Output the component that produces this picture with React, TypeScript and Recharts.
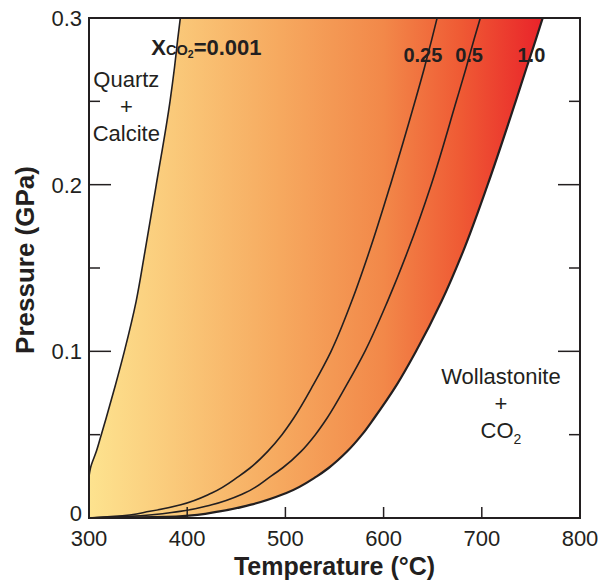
import React from 'react'
import { ComposedChart, Area, Line, XAxis, YAxis, ReferenceDot } from 'recharts'

const P_GPA = [0, 0.001, 0.004, 0.008, 0.015, 0.025, 0.03, 0.04, 0.05, 0.06, 0.08, 0.1, 0.13, 0.16, 0.2, 0.25, 0.27, 0.28, 0.287, 0.3]

// temperature (°C) of qz + cc = wo + CO2 for each X(CO2)
const T_X0001 = [null, null, null, null, null, 300, 301.5, 307.5, 312.5, 317.5, 327, 336, 348, 357, 368.5, 382.5, 387, 389, 390.3, 393]
const T_X025 = [300, 326, 362, 393.5, 425, 452.5, 464, 482, 496.5, 508.5, 528.5, 546.5, 567.5, 585.5, 607, 632, 641.5, 646, 649, 654.5]
const T_X05 = [300, 340, 392.5, 425, 458.5, 485, 497, 516, 530.5, 542.5, 562.5, 581, 604, 624.5, 648.5, 674, 684, 689, 692, 698.5]
const T_X10 = [300, 392, 433, 465, 501, 532, 544, 563, 578, 590.5, 613.5, 633, 659, 681, 706, 734.5, 745.5, 751, 755, 762]

const X_TICKS = [300, 400, 500, 600, 700, 800]
const Y_TICKS = [0, 0.05, 0.1, 0.15, 0.2, 0.25, 0.3]

// the curve labels near the top break the black lines here
const LABEL_GAP_P = 0.28

const INK = '#231f20'
const FONT = '"Liberation Sans", Arial, Helvetica, sans-serif'

const rows = P_GPA.map((p, i) => {
  const gap = p === LABEL_GAP_P
  return {
    p,
    band: [T_X0001[i] ?? 300, T_X10[i]],
    x0001: gap ? null : T_X0001[i],
    x025: gap ? null : T_X025[i],
    x05: gap ? null : T_X05[i],
    x10: gap ? null : T_X10[i],
  }
})

const isMajorP = (v: number) => Math.abs(v * 10 - Math.round(v * 10)) < 1e-6
const isEdgeP = (v: number) => v === 0 || v === 0.3
const isEdgeT = (v: number) => v === 300 || v === 800

const LeftTick = ({ x, y, payload }: any) => {
  const v = payload.value
  return (
    <g>
      {!isEdgeP(v) && (
        <line x1={x} x2={x + (isMajorP(v) ? 22 : 11)} y1={y} y2={y} stroke={INK} strokeWidth={1.5} />
      )}
      {isMajorP(v) && (
        <text
          x={x - 7}
          y={v === 0 ? y - 5 : y}
          dy="0.36em"
          textAnchor="end"
          fontSize={22}
          fontFamily={FONT}
          fill={INK}
        >
          {v === 0 ? '0' : v.toFixed(1)}
        </text>
      )}
    </g>
  )
}

const RightTick = ({ x, y, payload }: any) => {
  const v = payload.value
  if (isEdgeP(v)) return <g />
  return <line x1={x} x2={x - (isMajorP(v) ? 22 : 11)} y1={y} y2={y} stroke={INK} strokeWidth={1.5} />
}

const BottomTick = ({ x, y, payload }: any) => {
  const v = payload.value
  return (
    <g>
      {!isEdgeT(v) && <line x1={x} x2={x} y1={y} y2={y - 11} stroke={INK} strokeWidth={1.5} />}
      <text x={x} y={y + 28} textAnchor="middle" fontSize={22} fontFamily={FONT} fill={INK}>
        {v}
      </text>
    </g>
  )
}

const TopTick = ({ x, y, payload }: any) => {
  if (isEdgeT(payload.value)) return <g />
  return <line x1={x} x2={x} y1={y} y2={y + 9} stroke={INK} strokeWidth={1.5} />
}

const XTitle = ({ viewBox }: any) => (
  <text
    x={viewBox.x + viewBox.width / 2}
    y={viewBox.y + 57}
    textAnchor="middle"
    fontSize={25}
    fontWeight="bold"
    fontFamily={FONT}
    fill={INK}
  >
    Temperature (°C)
  </text>
)

const YTitle = ({ viewBox }: any) => {
  const x = viewBox.x + 34
  const y = viewBox.y + viewBox.height / 2 - 8
  return (
    <text
      x={x}
      y={y}
      transform={`rotate(-90 ${x} ${y})`}
      textAnchor="middle"
      fontSize={26}
      fontWeight="bold"
      fontFamily={FONT}
      fill={INK}
    >
      Pressure (GPa)
    </text>
  )
}

const fieldLabel = (top: string, bottom: React.ReactNode) => (props: any) => (
  <text x={props.cx} y={props.cy} textAnchor="middle" fontSize={22} fontFamily={FONT} fill={INK}>
    <tspan x={props.cx}>{top}</tspan>
    <tspan x={props.cx} dy={27}>+</tspan>
    <tspan x={props.cx} dy={26.5}>{bottom}</tspan>
  </text>
)

const curveLabel = (text: string) => (props: any) => (
  <text x={props.cx} y={props.cy} textAnchor="middle" fontSize={20} fontWeight="bold" fontFamily={FONT} fill={INK}>
    {text}
  </text>
)

const xco2Label = (props: any) => (
  <text x={props.cx} y={props.cy} fontWeight="bold" fontFamily={FONT} fill={INK}>
    <tspan fontSize={22}>X</tspan>
    <tspan fontSize={14.5}>CO</tspan>
    <tspan fontSize={10.5} dy={3}>2</tspan>
    <tspan fontSize={22} dy={-3}>=0.001</tspan>
  </text>
)

export default function App() {
  return (
    <div style={{ position: 'absolute', left: 0, top: 0 }}>
      <ComposedChart
        width={600}
        height={581}
        data={rows}
        layout="vertical"
        margin={{ top: 0, right: 0, bottom: 0, left: 0 }}
      >
        <defs>
          <linearGradient id="bandFill" x1="0" y1="0" x2="1" y2="0">
            <stop offset="0" stopColor="#fde38f" />
            <stop offset="0.42" stopColor="#f6a95f" />
            <stop offset="0.65" stopColor="#f28849" />
            <stop offset="0.82" stopColor="#ef5a34" />
            <stop offset="1" stopColor="#e9232a" />
          </linearGradient>
        </defs>

        <Area dataKey="band" type="monotone" fill="url(#bandFill)" fillOpacity={1} stroke="none" isAnimationActive={false} />
        <Line dataKey="x0001" type="monotone" stroke={INK} strokeWidth={1.6} dot={false} isAnimationActive={false} />
        <Line dataKey="x025" type="monotone" stroke={INK} strokeWidth={1.6} dot={false} isAnimationActive={false} />
        <Line dataKey="x05" type="monotone" stroke={INK} strokeWidth={1.6} dot={false} isAnimationActive={false} />
        <Line dataKey="x10" type="monotone" stroke={INK} strokeWidth={2.2} dot={false} isAnimationActive={false} />

        <XAxis
          type="number"
          domain={[300, 800]}
          ticks={X_TICKS}
          interval={0}
          height={63}
          tickSize={0}
          tickMargin={0}
          tickLine={false}
          tick={<BottomTick />}
          axisLine={{ stroke: INK, strokeWidth: 2, strokeLinecap: 'square' }}
          label={<XTitle />}
        />
        <XAxis
          xAxisId="top"
          orientation="top"
          type="number"
          domain={[300, 800]}
          ticks={X_TICKS}
          interval={0}
          height={18}
          tickSize={0}
          tickMargin={0}
          tickLine={false}
          tick={<TopTick />}
          axisLine={{ stroke: INK, strokeWidth: 2, strokeLinecap: 'square' }}
        />
        <YAxis
          type="number"
          dataKey="p"
          domain={[0, 0.3]}
          reversed
          ticks={Y_TICKS}
          interval={0}
          width={89}
          tickSize={0}
          tickMargin={0}
          tickLine={false}
          tick={<LeftTick />}
          axisLine={{ stroke: INK, strokeWidth: 2, strokeLinecap: 'square' }}
          label={<YTitle />}
        />
        <YAxis
          yAxisId="right"
          orientation="right"
          type="number"
          dataKey="p"
          domain={[0, 0.3]}
          reversed
          ticks={Y_TICKS}
          interval={0}
          width={20}
          tickSize={0}
          tickMargin={0}
          tickLine={false}
          tick={<RightTick />}
          axisLine={{ stroke: INK, strokeWidth: 2, strokeLinecap: 'square' }}
        />

        <ReferenceDot x={338} y={0.2586} r={1} shape={fieldLabel('Quartz', 'Calcite')} />
        <ReferenceDot
          x={719.5}
          y={0.0804}
          r={1}
          shape={fieldLabel('Wollastonite', <>CO<tspan fontSize={14} dy={6}>2</tspan></>)}
        />
        <ReferenceDot x={363.5} y={0.2778} r={1} shape={xco2Label} />
        <ReferenceDot x={640} y={0.2738} r={1} shape={curveLabel('0.25')} />
        <ReferenceDot x={687} y={0.2738} r={1} shape={curveLabel('0.5')} />
        <ReferenceDot x={750.5} y={0.2738} r={1} shape={curveLabel('1.0')} />
      </ComposedChart>
    </div>
  )
}
